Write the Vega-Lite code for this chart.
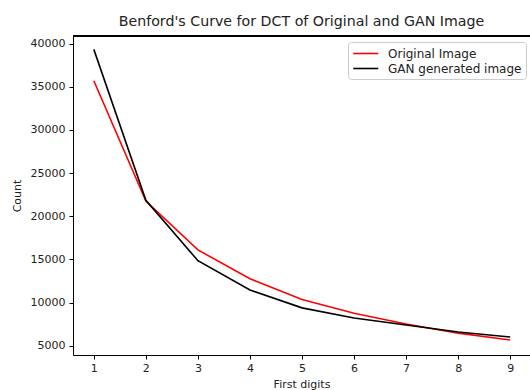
{
  "$schema": "https://vega.github.io/schema/vega-lite/v6.json",
  "autosize": "none",
  "width": 457,
  "height": 319,
  "padding": {"left": 73, "top": 36, "right": 0, "bottom": 35},
  "background": "white",
  "config": {
    "view": {"stroke": null},
    "font": "DejaVu Sans",
    "axis": {
      "grid": false,
      "domainColor": "#000000",
      "domainWidth": 1,
      "tickColor": "#000000",
      "tickSize": 4,
      "labelFontSize": 11,
      "labelColor": "#222222",
      "titleFontSize": 11,
      "titleFontWeight": "normal",
      "titleColor": "#222222",
      "labelFont": "DejaVu Sans",
      "titleFont": "DejaVu Sans"
    }
  },
  "title": {
    "text": "Benford's Curve for DCT of Original and GAN Image",
    "fontSize": 14.2,
    "fontWeight": "normal",
    "font": "DejaVu Sans",
    "color": "#222222",
    "anchor": "middle",
    "offset": 6
  },
  "data": {
    "values": [
      {"digit": 1, "count": 35700, "series": "Original Image"},
      {"digit": 2, "count": 21750, "series": "Original Image"},
      {"digit": 3, "count": 16100, "series": "Original Image"},
      {"digit": 4, "count": 12750, "series": "Original Image"},
      {"digit": 5, "count": 10350, "series": "Original Image"},
      {"digit": 6, "count": 8750, "series": "Original Image"},
      {"digit": 7, "count": 7520, "series": "Original Image"},
      {"digit": 8, "count": 6450, "series": "Original Image"},
      {"digit": 9, "count": 5650, "series": "Original Image"},
      {"digit": 1, "count": 39330, "series": "GAN generated image"},
      {"digit": 2, "count": 21850, "series": "GAN generated image"},
      {"digit": 3, "count": 14850, "series": "GAN generated image"},
      {"digit": 4, "count": 11450, "series": "GAN generated image"},
      {"digit": 5, "count": 9380, "series": "GAN generated image"},
      {"digit": 6, "count": 8200, "series": "GAN generated image"},
      {"digit": 7, "count": 7400, "series": "GAN generated image"},
      {"digit": 8, "count": 6580, "series": "GAN generated image"},
      {"digit": 9, "count": 6000, "series": "GAN generated image"}
    ]
  },
  "layer": [
    {
      "mark": {"type": "line", "strokeWidth": 1.6, "clip": true},
      "encoding": {
        "x": {
          "field": "digit",
          "type": "quantitative",
          "scale": {"domain": [0.6, 9.38], "nice": false, "zero": false},
          "axis": {"values": [1, 2, 3, 4, 5, 6, 7, 8, 9], "format": "d", "title": "First digits", "titlePadding": 5, "labelPadding": 3}
        },
        "y": {
          "field": "count",
          "type": "quantitative",
          "scale": {"domain": [3920, 40880], "nice": false, "zero": false},
          "axis": {"values": [5000, 10000, 15000, 20000, 25000, 30000, 35000, 40000], "format": "d", "title": "Count", "titlePadding": 8, "labelPadding": 4}
        },
        "color": {
          "field": "series",
          "type": "nominal",
          "sort": ["Original Image", "GAN generated image"],
          "scale": {"domain": ["Original Image", "GAN generated image"], "range": ["#ff0000", "#000000"]},
          "legend": {
            "title": null,
            "orient": "none",
            "legendX": 275,
            "legendY": 6,
            "symbolType": "M-1,0H3",
            "symbolSize": 156,
            "symbolStrokeWidth": 1.6,
            "labelFontSize": 12,
            "labelColor": "#222222",
            "labelFont": "DejaVu Sans",
            "strokeColor": "#cccccc",
            "fillColor": "white",
            "cornerRadius": 3,
            "padding": 4,
            "rowPadding": 1,
            "labelOffset": 21
          }
        }
      }
    },
    {
      "mark": {"type": "rule", "color": "#000000", "strokeWidth": 0.8},
      "encoding": {
        "y": {"datum": 40880, "type": "quantitative"}
      }
    }
  ]
}
